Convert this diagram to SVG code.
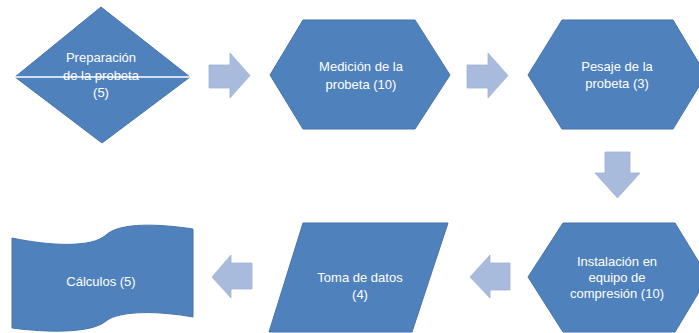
<svg xmlns="http://www.w3.org/2000/svg" width="699" height="333" viewBox="0 0 699 333">
<style>
.node{fill:#4F81BD;stroke:#4774AC;stroke-width:1}
.arr{fill:#A9BBDC;stroke:#9FB2D6;stroke-width:0.8}
.t{font-family:"Liberation Sans",Arial,sans-serif;font-size:13px;fill:#FFFFFF;text-anchor:middle}
</style>
<rect width="699" height="333" fill="#FFFFFF"/>
<g id="connectors">
<path class="arr" d="M209,65 L230,65 L230,53 L250,75.5 L230,98 L230,88 L209,88 Z"/>
<path class="arr" d="M467,65 L488,65 L488,53 L508,75.5 L488,98 L488,88 L467,88 Z"/>
<path class="arr" d="M605,152 L630,152 L630,173 L640,173 L617.5,198 L595,173 L605,173 Z"/>
<path class="arr" d="M510,263 L490,263 L490,255 L470,277 L490,298 L490,290 L510,290 Z"/>
<path class="arr" d="M252,263 L231,263 L231,255 L212,277 L231,298 L231,289 L252,289 Z"/>
</g>
<g id="n1">
<path class="node" d="M101,7 L190,77 L102,143 L15,77 Z"/>
<line x1="15" y1="77" x2="190" y2="77" stroke="#FFFFFF" stroke-width="1.5"/>
<text class="t" x="101" y="62">Preparación</text>
<text class="t" x="101" y="80">de la probeta</text>
<text class="t" x="101" y="97">(5)</text>
</g>
<g id="n2">
<path class="node" d="M303,20 L415,20 L450,75 L415,129 L303,129 L270,75 Z"/>
<text class="t" x="361" y="71">Medición de la</text>
<text class="t" x="361" y="89">probeta (10)</text>
</g>
<g id="n3">
<path class="node" d="M562,20 L673,20 L706,75 L673,129 L562,129 L528,75 Z"/>
<text class="t" x="617" y="71">Pesaje de la</text>
<text class="t" x="617" y="88">probeta (3)</text>
</g>
<g id="n4">
<path class="node" d="M563,223 L675,223 L708,277 L675,332 L563,332 L528,277 Z"/>
<text class="t" x="617" y="266">Instalación en</text>
<text class="t" x="617" y="282">equipo de</text>
<text class="t" x="617" y="298">compresión (10)</text>
</g>
<g id="n5">
<path class="node" d="M303,223 L448,223 L412,332 L269,332 Z"/>
<text class="t" x="360" y="282">Toma de datos</text>
<text class="t" x="360" y="299">(4)</text>
</g>
<g id="n6">
<path class="node" d="M12,238 C50,246 92,248 106,235 C120,222 160,224 193,229 L193,317 C160,311 120,310 106,321 C92,333 50,333 12,328 Z"/>
<text class="t" x="101" y="286">Cálculos (5)</text>
</g>
</svg>
